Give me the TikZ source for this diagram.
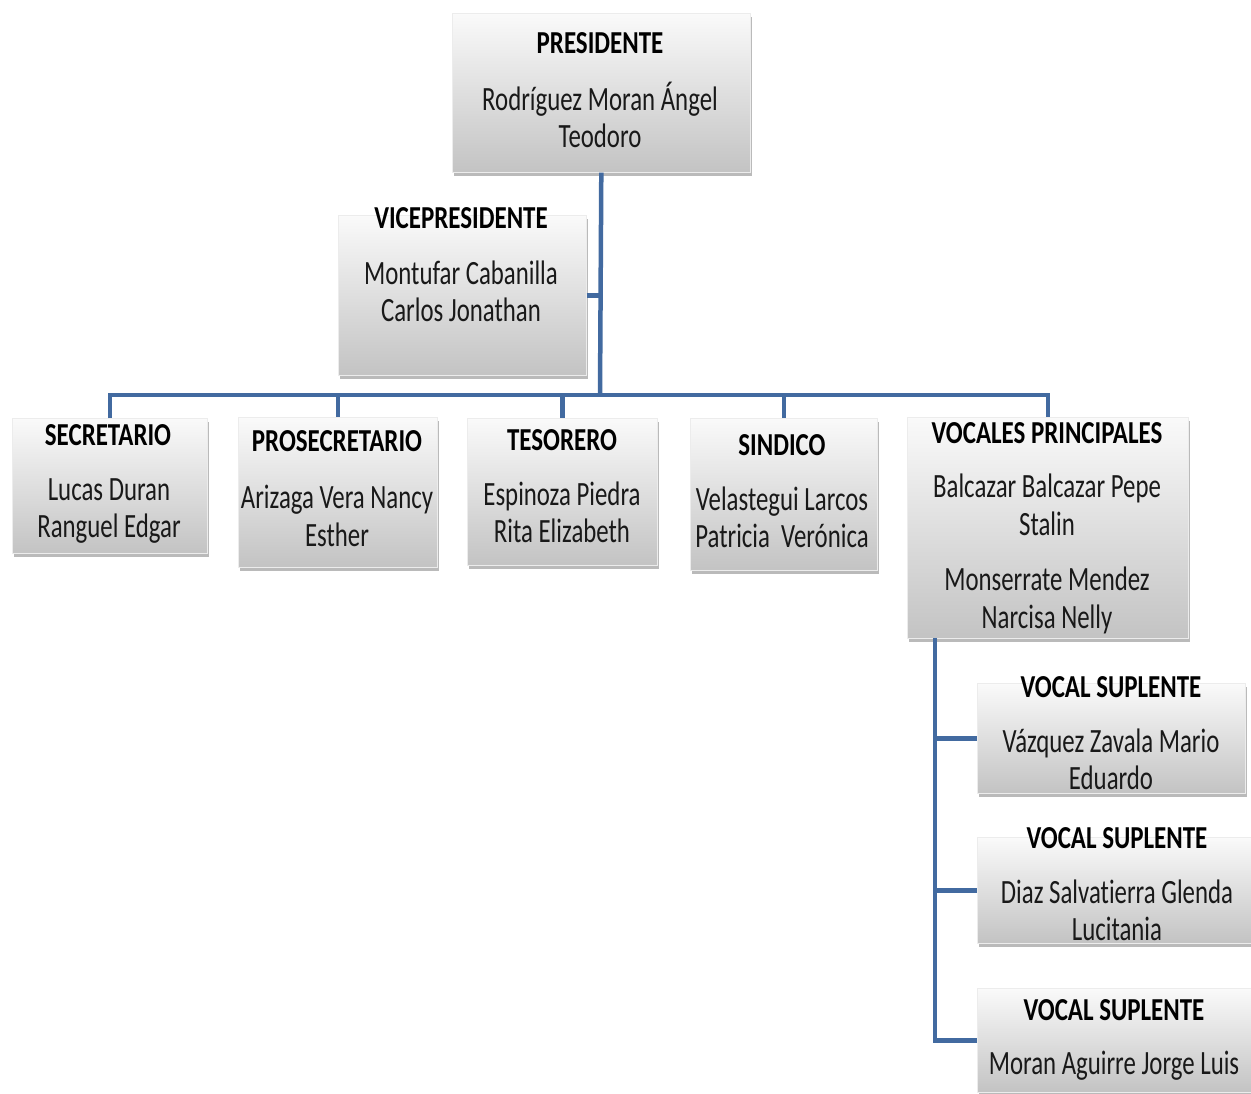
\documentclass[tikz,border=0pt]{standalone}
\usepackage{fontspec}
\newfontfamily\namefont[FakeStretch=0.73,Ligatures=NoCommon]{Carlito}
\newfontfamily\titlefont[FakeStretch=0.78,Ligatures=NoCommon]{Carlito}
\usetikzlibrary{shadows}
\definecolor{linec}{RGB}{66,106,160}
\tikzset{
  box/.style={draw=white!85!gray, line width=0.6pt, top color=gray!4, bottom color=gray!47,
    drop shadow={shadow xshift=2pt, shadow yshift=-4pt, opacity=0.45, fill=black!60},
    anchor=north west, inner sep=0pt},
  ttl/.style={font=\titlefont\bfseries\fontsize{32}{32}\selectfont, anchor=base, inner sep=0pt, text=black},
  nm/.style={font=\namefont\fontsize{34}{34}\selectfont, anchor=base, inner sep=0pt, text=black!90},
  conn/.style={draw=linec, line width=4.5pt, line join=miter}
}
\begin{document}
\begin{tikzpicture}[x=1pt,y=-1pt]
\useasboundingbox[fill=white] (0,0) rectangle (1251,1093);
% boxes
\node[box, minimum width=298, minimum height=159] (pres) at (452,13) {};
\node[box, minimum width=248, minimum height=160] (vp) at (338,215) {};
\node[box, minimum width=195, minimum height=135] (sec) at (12,418) {};
\node[box, minimum width=199, minimum height=150] (pro) at (238,417) {};
\node[box, minimum width=190, minimum height=147] (tes) at (467,418) {};
\node[box, minimum width=187, minimum height=152] (sin) at (690,418) {};
\node[box, minimum width=281, minimum height=221] (voc) at (907,417) {};
\node[box, minimum width=268, minimum height=110] (vs1) at (977,683) {};
\node[box, minimum width=274, minimum height=106] (vs2) at (977,837) {};
\node[box, minimum width=274, minimum height=104] (vs3) at (977,988) {};
% connectors
\coordinate (j) at (600,395);
\coordinate (vtop) at (935,638);
\draw[conn] (pres.south) -- (j);
\draw[conn] (vp.east) -- (vp.east -| j);
\draw[conn] (sec.north) -- (sec.north |- j) -- (voc.north |- j) -- (voc.north);
\draw[conn] (pro.north |- j) -- (pro.north);
\draw[conn] (tes.north |- j) -- (tes.north);
\draw[conn] (sin.north |- j) -- (sin.north);
\draw[conn] (vtop) -- (vtop |- vs3.west) -- (vs3.west);
\draw[conn] (vtop |- vs1.west) -- (vs1.west);
\draw[conn] (vtop |- vs2.west) -- (vs2.west);
% texts
\node[ttl] (pres-t) at (600,53) {PRESIDENTE};
\node[nm] (pres-a) at (600,110) {Rodríguez Moran Ángel};
\node[nm] (pres-b) at (600,147) {Teodoro};
\node[ttl] (vp-t) at (461,228) {VICEPRESIDENTE};
\node[nm] (vp-a) at (461,284) {Montufar Cabanilla};
\node[nm] (vp-b) at (461,321) {Carlos Jonathan};
\node[ttl] (sec-t) at (108,445) {SECRETARIO};
\node[nm] (sec-a) at (109,500) {Lucas Duran};
\node[nm] (sec-b) at (109,537) {Ranguel Edgar};
\node[ttl] (pro-t) at (337,451) {PROSECRETARIO};
\node[nm] (pro-a) at (337,508) {Arizaga Vera Nancy};
\node[nm] (pro-b) at (337,546) {Esther};
\node[ttl] (tes-t) at (562,450) {TESORERO};
\node[nm] (tes-a) at (562,505) {Espinoza Piedra};
\node[nm] (tes-b) at (562,542) {Rita Elizabeth};
\node[ttl] (sin-t) at (782,455) {SINDICO};
\node[nm] (sin-a) at (782,510) {Velastegui Larcos};
\node[nm] (sin-b) at (782,547) {Patricia\ \ Verónica};
\node[ttl] (voc-t) at (1047,443) {VOCALES PRINCIPALES};
\node[nm] (voc-a) at (1047,497) {Balcazar Balcazar Pepe};
\node[nm] (voc-b) at (1047,535) {Stalin};
\node[nm] (voc-c) at (1047,590) {Monserrate Mendez};
\node[nm] (voc-d) at (1047,628) {Narcisa Nelly};
\node[ttl] (vs1-t) at (1111,697) {VOCAL SUPLENTE};
\node[nm] (vs1-a) at (1111,752) {Vázquez Zavala Mario};
\node[nm] (vs1-b) at (1111,789) {Eduardo};
\node[ttl] (vs2-t) at (1117,848) {VOCAL SUPLENTE};
\node[nm] (vs2-a) at (1117,903) {Diaz Salvatierra Glenda};
\node[nm] (vs2-b) at (1117,940) {Lucitania};
\node[ttl] (vs3-t) at (1114,1020) {VOCAL SUPLENTE};
\node[nm] (vs3-a) at (1114,1074) {Moran Aguirre Jorge Luis};
\end{tikzpicture}
\end{document}
